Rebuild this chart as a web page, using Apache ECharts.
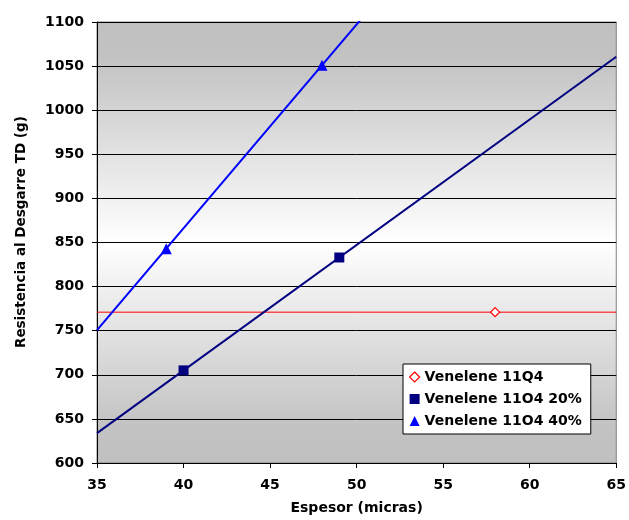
<!DOCTYPE html>
<html>
<head>
<meta charset="utf-8">
<script src="https://cdn.jsdelivr.net/npm/echarts@6/dist/echarts.min.js"></script>
<style>html,body{margin:0;padding:0;background:#fff}#c{width:629px;height:520px}</style>
</head>
<body>
<div id="c"></div>
<script>
// Data
var seriesNames = ['Venelene 11Q4', 'Venelene 11O4 20%', 'Venelene 11O4 40%'];
var x11Q4 = [58];
var y11Q4 = [771];
var x20 = [40, 49];
var y20 = [705, 833];
var x40 = [39, 48];
var y40 = [843, 1051];
var xTicks = [35, 40, 45, 50, 55, 60, 65];
var yTicks = [600, 650, 700, 750, 800, 850, 900, 950, 1000, 1050, 1100];

var FONT = 'DejaVu Sans';
var xMin = xTicks[0], xMax = xTicks[xTicks.length - 1];

function pts(xs, ys) { return xs.map(function (x, i) { return [x, ys[i]]; }); }
// Linear least-squares trendline across the x axis range
function trend(xs, ys) {
  var n = xs.length, mx = 0, my = 0;
  xs.forEach(function (v) { mx += v / n; });
  ys.forEach(function (v) { my += v / n; });
  var sxy = 0, sxx = 0;
  for (var i = 0; i < n; i++) { sxy += (xs[i] - mx) * (ys[i] - my); sxx += (xs[i] - mx) * (xs[i] - mx); }
  var b = sxx > 0 ? sxy / sxx : 0;
  var a = my - b * mx;
  return [[xMin, a + b * xMin], [xMax, a + b * xMax]];
}

var colors = ['#ff0000', '#000080', '#0000ff'];
var groups = [[x11Q4, y11Q4], [x20, y20], [x40, y40]];
var symbols = ['diamond', 'rect', 'triangle'];
var symSizes = [9, 10, 11];
var lineWidths = [1, 2, 2];

var series = [];
groups.forEach(function (g, i) {
  series.push({
    name: seriesNames[i] + ' trend', type: 'line', data: trend(g[0], g[1]),
    showSymbol: false, symbol: 'none', silent: true, clip: true, z: 2,
    lineStyle: { color: colors[i], width: lineWidths[i] }, animation: false
  });
});
groups.forEach(function (g, i) {
  series.push({
    name: seriesNames[i], type: 'scatter', data: pts(g[0], g[1]),
    symbol: symbols[i], symbolSize: symSizes[i], z: 3,
    itemStyle: i === 0 ? { color: '#ffffff', borderColor: colors[i], borderWidth: 1.2, opacity: 1 } : { color: colors[i], opacity: 1 },
    animation: false
  });
});

var chart = echarts.init(document.getElementById('c'), null, { renderer: 'canvas' });
chart.setOption({
  animation: false,
  backgroundColor: '#ffffff',
  grid: {
    left: 97, top: 22, width: 521, height: 442,
    show: true, borderColor: '#808080', borderWidth: 1,
    backgroundColor: new echarts.graphic.LinearGradient(0, 0, 0, 1, [
      { offset: 0, color: '#c0c0c0' },
      { offset: 0.08, color: '#c2c2c2' },
      { offset: 0.5, color: '#ffffff' },
      { offset: 0.92, color: '#c2c2c2' },
      { offset: 1, color: '#c0c0c0' }
    ])
  },
  legend: {
    orient: 'vertical', left: 403, top: 364,
    backgroundColor: '#ffffff', borderColor: '#000000', borderWidth: 1,
    padding: [6, 9, 6, 6], itemGap: 8, itemWidth: 10, itemHeight: 10,
    textStyle: { fontFamily: FONT, fontWeight: 'bold', fontSize: 14, color: '#000' },
    data: [
      { name: seriesNames[0], icon: 'diamond', itemStyle: { color: '#ffffff', borderColor: colors[0], borderWidth: 1.2, opacity: 1 } },
      { name: seriesNames[1], icon: 'rect', itemStyle: { color: colors[1], opacity: 1 } },
      { name: seriesNames[2], icon: 'triangle', itemStyle: { color: colors[2], opacity: 1 } }
    ]
  },
  xAxis: {
    type: 'value', min: xMin, max: xMax, interval: 5,
    name: 'Espesor (micras)', nameLocation: 'middle', nameGap: 38,
    nameTextStyle: { fontFamily: FONT, fontWeight: 'bold', fontSize: 14, color: '#000' },
    axisLine: { show: true, onZero: false, lineStyle: { color: '#000', width: 1 } },
    axisTick: { show: true, length: 5, inside: false, lineStyle: { color: '#000' } },
    axisLabel: { margin: 15, fontFamily: FONT, fontWeight: 'bold', fontSize: 14, color: '#000',
      formatter: function (v) { return xTicks.indexOf(v) >= 0 ? String(v) : ''; } },
    splitLine: { show: false }
  },
  yAxis: {
    type: 'value', min: yTicks[0], max: yTicks[yTicks.length - 1], interval: 50,
    axisLine: { show: true, onZero: false, lineStyle: { color: '#000', width: 1 } },
    axisTick: { show: true, length: 5, inside: false, lineStyle: { color: '#000' } },
    axisLabel: { margin: 13, fontFamily: FONT, fontWeight: 'bold', fontSize: 14, color: '#000',
      formatter: function (v) { return yTicks.indexOf(v) >= 0 ? String(v) : ''; } },
    splitLine: { show: true, lineStyle: { color: '#000', width: 1 } }
  },
  graphic: [{
    type: 'text',
    style: { text: 'Resistencia al Desgarre TD (g)', fontFamily: FONT, fontWeight: 'bold', fontSize: 13.5, fill: '#000' },
    rotation: Math.PI / 2,
    x: 14, y: 348
  }],
  series: series
});
</script>
</body>
</html>
